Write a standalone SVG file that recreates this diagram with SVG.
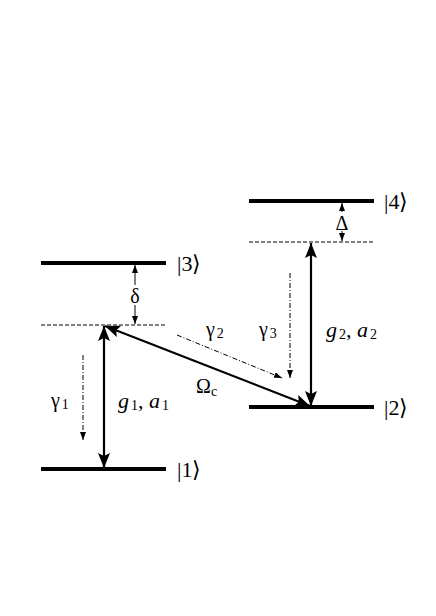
<svg xmlns="http://www.w3.org/2000/svg" width="436" height="616" viewBox="0 0 436 616">
<style>
.lvl{stroke:#000;stroke-width:4;fill:none}
.vir{stroke:#000;stroke-width:1;stroke-dasharray:4,2;fill:none}
.big{stroke:#000;stroke-width:2.2;fill:none}
.thin{stroke:#000;stroke-width:1;fill:none}
.dd{stroke:#000;stroke-width:1;stroke-dasharray:5,2,1,2;fill:none}
text{font-family:"Liberation Serif","Times New Roman",serif;fill:#000}
.ket{font-size:22px}
.gr{font-size:20px}
.it{font-size:22px;font-style:italic}
.sub{font-size:14px;font-style:normal}
</style>
<defs>
<marker id="hb" markerUnits="userSpaceOnUse" markerWidth="16" markerHeight="12" refX="15" refY="6" orient="auto-start-reverse"><path d="M0,0 L15,6 L0,12 L3,6 z" fill="#000"/></marker>
<marker id="hs" markerUnits="userSpaceOnUse" markerWidth="8" markerHeight="6" refX="8" refY="3" orient="auto-start-reverse"><path d="M0,0 L8,3 L0,6 z" fill="#000"/></marker>
</defs>
<rect width="436" height="616" fill="#fff"/>
<g id="level1"><line class="lvl" x1="41" y1="469" x2="166" y2="469"/><text class="ket" x="177" y="477">|1⟩</text></g>
<g id="level2"><line class="lvl" x1="249" y1="407" x2="374" y2="407"/><text class="ket" x="384" y="415">|2⟩</text></g>
<g id="level3"><line class="lvl" x1="41" y1="263" x2="166" y2="263"/><text class="ket" x="177" y="271">|3⟩</text></g>
<g id="level4"><line class="lvl" x1="249" y1="201" x2="374" y2="201"/><text class="ket" x="384" y="209">|4⟩</text></g>
<g id="virtual1"><line class="vir" x1="41" y1="325" x2="166" y2="325"/></g>
<g id="virtual2"><line class="vir" x1="249" y1="242" x2="374" y2="242"/></g>
<g id="connectors">
<line class="big" x1="104" y1="326" x2="104" y2="468" marker-start="url(#hb)" marker-end="url(#hb)"/>
<line class="big" x1="311" y1="243" x2="311" y2="406" marker-start="url(#hb)" marker-end="url(#hb)"/>
<line class="big" x1="105" y1="326" x2="310" y2="406" marker-start="url(#hb)" marker-end="url(#hb)"/>
<line class="thin" x1="135" y1="285" x2="135" y2="265" marker-end="url(#hs)"/>
<line class="thin" x1="135" y1="305" x2="135" y2="324" marker-end="url(#hs)"/>
<line class="thin" x1="342" y1="212" x2="342" y2="203" marker-end="url(#hs)"/>
<line class="thin" x1="342" y1="231" x2="342" y2="241" marker-end="url(#hs)"/>
<line class="dd" x1="83" y1="355" x2="83" y2="440" marker-end="url(#hs)"/>
<line class="dd" x1="290" y1="273" x2="290" y2="378" marker-end="url(#hs)"/>
<line class="dd" x1="177" y1="335" x2="282" y2="378" marker-end="url(#hs)"/>
</g>
<g id="labels">
<text class="gr" x="135" y="303" text-anchor="middle">δ</text>
<text class="gr" x="342" y="230" text-anchor="middle" font-size="18">Δ</text>
<text class="gr" x="51" y="407">γ<tspan class="sub" dx="2" dy="2">1</tspan></text>
<text class="gr" x="206" y="336">γ<tspan class="sub" dx="2" dy="2">2</tspan></text>
<text class="gr" x="259" y="336">γ<tspan class="sub" dx="2" dy="2">3</tspan></text>
<text class="it" x="118" y="408">g<tspan class="sub" dx="2" dy="2">1</tspan><tspan font-style="normal" dy="-2">, </tspan>a<tspan class="sub" dx="2" dy="2">1</tspan></text>
<text class="it" x="326" y="337">g<tspan class="sub" dx="2" dy="2">2</tspan><tspan font-style="normal" dy="-2">, </tspan>a<tspan class="sub" dx="2" dy="2">2</tspan></text>
<text class="gr" x="196" y="393">Ω<tspan class="sub" font-style="italic" dy="3">c</tspan></text>
</g>
</svg>
